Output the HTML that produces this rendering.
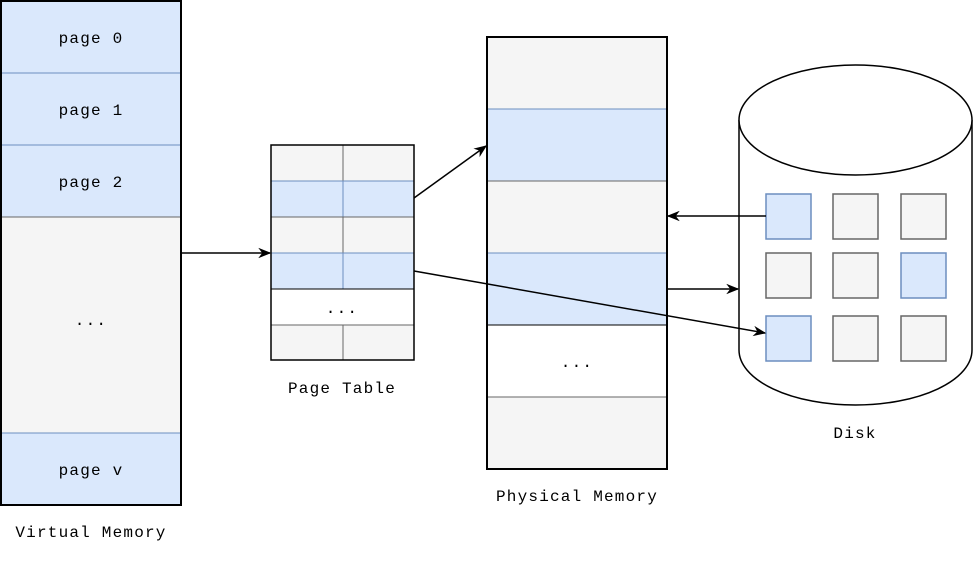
<!DOCTYPE html>
<html><head><meta charset="utf-8"><style>html,body{margin:0;padding:0;background:#fff}</style></head>
<body>
<svg width="974" height="560" viewBox="0 0 974 560" xmlns="http://www.w3.org/2000/svg" font-family="'Liberation Mono', monospace" font-size="16" letter-spacing="1.2">
<defs><marker id="a" viewBox="0 0 10 10" refX="9" refY="5" markerWidth="13" markerHeight="13" markerUnits="userSpaceOnUse" orient="auto"><path d="M0,1 L10,5 L0,9 L3,5 z" fill="#000"/></marker></defs>
<rect x="1" y="1" width="180" height="72" fill="#dae8fc" stroke="#6c8ebf"/>
<rect x="1" y="73" width="180" height="72" fill="#dae8fc" stroke="#6c8ebf"/>
<rect x="1" y="145" width="180" height="72" fill="#dae8fc" stroke="#6c8ebf"/>
<rect x="1" y="217" width="180" height="216" fill="#f5f5f5" stroke="#666"/>
<rect x="1" y="433" width="180" height="72" fill="#dae8fc" stroke="#6c8ebf"/>
<rect x="1" y="1" width="180" height="504" fill="none" stroke="#000" stroke-width="2"/>
<g text-anchor="middle">
<text x="91" y="43">page 0</text><text x="91" y="115">page 1</text><text x="91" y="187">page 2</text>
<text x="91" y="325">...</text><text x="91" y="475">page v</text>
<text x="91" y="537">Virtual Memory</text>
</g>
<g>
<rect x="271" y="145" width="72" height="36" fill="#f5f5f5" stroke="#666"/><rect x="343" y="145" width="71" height="36" fill="#f5f5f5" stroke="#666"/>
<rect x="271" y="181" width="72" height="36" fill="#dae8fc" stroke="#6c8ebf"/><rect x="343" y="181" width="71" height="36" fill="#dae8fc" stroke="#6c8ebf"/>
<rect x="271" y="217" width="72" height="36" fill="#f5f5f5" stroke="#666"/><rect x="343" y="217" width="71" height="36" fill="#f5f5f5" stroke="#666"/>
<rect x="271" y="253" width="72" height="36" fill="#dae8fc" stroke="#6c8ebf"/><rect x="343" y="253" width="71" height="36" fill="#dae8fc" stroke="#6c8ebf"/>
<rect x="271" y="289" width="143" height="36" fill="#fff" stroke="#000"/>
<rect x="271" y="325" width="72" height="35" fill="#f5f5f5" stroke="#666"/><rect x="343" y="325" width="71" height="35" fill="#f5f5f5" stroke="#666"/>
<rect x="271" y="145" width="143" height="215" fill="none" stroke="#000" stroke-width="1.5"/>
<text x="342" y="313" text-anchor="middle">...</text>
<text x="342" y="393" text-anchor="middle">Page Table</text>
</g>
<rect x="487" y="37" width="180" height="72" fill="#f5f5f5" stroke="#666"/>
<rect x="487" y="109" width="180" height="72" fill="#dae8fc" stroke="#6c8ebf"/>
<rect x="487" y="181" width="180" height="72" fill="#f5f5f5" stroke="#666"/>
<rect x="487" y="253" width="180" height="72" fill="#dae8fc" stroke="#6c8ebf"/>
<rect x="487" y="325" width="180" height="72" fill="#fff" stroke="#000"/>
<rect x="487" y="397" width="180" height="72" fill="#f5f5f5" stroke="#666"/>
<rect x="487" y="37" width="180" height="432" fill="none" stroke="#000" stroke-width="2"/>
<text x="577" y="367" text-anchor="middle">...</text>
<text x="577" y="501" text-anchor="middle">Physical Memory</text>
<path d="M739,120 L739,350 A116.5,55 0 0 0 972,350 L972,120" fill="#fff" stroke="#000" stroke-width="1.5"/>
<ellipse cx="855.5" cy="120" rx="116.5" ry="55" fill="#fff" stroke="#000" stroke-width="1.5"/>
<g stroke-width="1.5">
<rect x="766" y="194" width="45" height="45" fill="#dae8fc" stroke="#6c8ebf"/>
<rect x="833" y="194" width="45" height="45" fill="#f5f5f5" stroke="#666"/>
<rect x="901" y="194" width="45" height="45" fill="#f5f5f5" stroke="#666"/>
<rect x="766" y="253" width="45" height="45" fill="#f5f5f5" stroke="#666"/>
<rect x="833" y="253" width="45" height="45" fill="#f5f5f5" stroke="#666"/>
<rect x="901" y="253" width="45" height="45" fill="#dae8fc" stroke="#6c8ebf"/>
<rect x="766" y="316" width="45" height="45" fill="#dae8fc" stroke="#6c8ebf"/>
<rect x="833" y="316" width="45" height="45" fill="#f5f5f5" stroke="#666"/>
<rect x="901" y="316" width="45" height="45" fill="#f5f5f5" stroke="#666"/>
</g>
<text x="855" y="438" text-anchor="middle">Disk</text>
<g stroke="#000" stroke-width="1.5" fill="none" marker-end="url(#a)">
<line x1="181" y1="253" x2="270" y2="253"/>
<line x1="414" y1="198" x2="486" y2="146"/>
<line x1="414" y1="271" x2="765" y2="333"/>
<line x1="766" y1="216" x2="668" y2="216"/>
<line x1="667" y1="289" x2="738" y2="289"/>
</g>
</svg>
</body></html>
